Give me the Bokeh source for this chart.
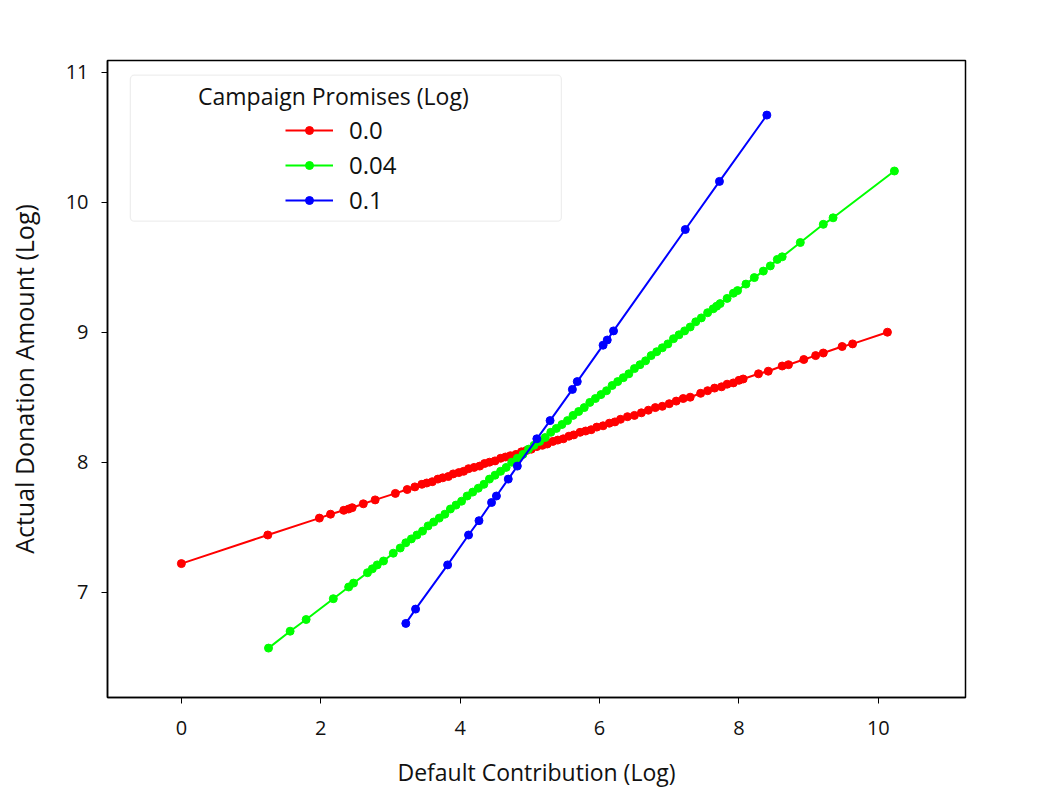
from bokeh.plotting import figure
from bokeh.models import Range1d, FixedTicker, Legend, LegendItem, BoxAnnotation, Label
from bokeh.embed import file_html
from bokeh.resources import INLINE

# ---- data ----
red_x = [0, 1.24, 1.98, 2.14, 2.33, 2.40, 2.45, 2.61, 2.78, 3.07, 3.24, 3.35, 3.45, 3.52, 3.60,
         3.68, 3.75, 3.83, 3.90, 3.98, 4.05, 4.12, 4.20, 4.28, 4.35, 4.42, 4.50, 4.58, 4.65, 4.72,
         4.80, 4.88, 4.95, 5.02, 5.10, 5.18, 5.25, 5.33, 5.40, 5.48, 5.56, 5.63, 5.72, 5.80, 5.88,
         5.96, 6.05, 6.14, 6.22, 6.30, 6.40, 6.50, 6.60, 6.70, 6.80, 6.90, 7.00, 7.10, 7.20, 7.30,
         7.45, 7.55, 7.65, 7.75, 7.83, 7.92, 8.00, 8.06, 8.28, 8.42, 8.62, 8.71, 8.93, 9.10, 9.21,
         9.48, 9.63, 10.13]
red_y = [7.22, 7.44, 7.57, 7.60, 7.63, 7.64, 7.65, 7.68, 7.71, 7.76, 7.79, 7.81, 7.83, 7.84, 7.85,
         7.87, 7.88, 7.89, 7.91, 7.92, 7.93, 7.95, 7.96, 7.97, 7.99, 8.00, 8.01, 8.03, 8.04, 8.05,
         8.06, 8.08, 8.09, 8.10, 8.12, 8.13, 8.14, 8.16, 8.17, 8.18, 8.20, 8.21, 8.23, 8.24, 8.25,
         8.27, 8.28, 8.30, 8.31, 8.33, 8.35, 8.36, 8.38, 8.40, 8.42, 8.43, 8.45, 8.47, 8.49, 8.50,
         8.53, 8.55, 8.57, 8.58, 8.60, 8.61, 8.63, 8.64, 8.68, 8.70, 8.74, 8.75, 8.79, 8.82, 8.84,
         8.89, 8.91, 9.00]

green_x = [1.25, 1.56, 1.79, 2.18, 2.40, 2.47, 2.67, 2.74, 2.81, 2.90, 3.04, 3.14, 3.22, 3.30, 3.38,
           3.46, 3.54, 3.62, 3.70, 3.78, 3.86, 3.94, 4.02, 4.10, 4.18, 4.26, 4.34, 4.42, 4.50, 4.58,
           4.66, 4.74, 4.82, 4.90, 4.98, 5.06, 5.14, 5.22, 5.30, 5.38, 5.46, 5.54, 5.62, 5.70, 5.78,
           5.86, 5.94, 6.02, 6.10, 6.18, 6.26, 6.34, 6.42, 6.50, 6.58, 6.66, 6.74, 6.82, 6.90, 6.98,
           7.06, 7.14, 7.22, 7.30, 7.38, 7.46, 7.55, 7.63, 7.68, 7.73, 7.83, 7.92, 7.98, 8.10, 8.22,
           8.35, 8.45, 8.55, 8.62, 8.88, 9.21, 9.35, 10.23]
green_y = [6.57, 6.70, 6.79, 6.95, 7.04, 7.07, 7.15, 7.18, 7.21, 7.24, 7.30, 7.34, 7.38, 7.41, 7.44,
           7.47, 7.51, 7.54, 7.57, 7.60, 7.64, 7.67, 7.70, 7.74, 7.77, 7.80, 7.83, 7.87, 7.90, 7.93,
           7.96, 8.00, 8.03, 8.06, 8.10, 8.13, 8.16, 8.19, 8.23, 8.26, 8.29, 8.32, 8.36, 8.39, 8.42,
           8.46, 8.49, 8.52, 8.55, 8.59, 8.62, 8.65, 8.68, 8.72, 8.75, 8.78, 8.82, 8.85, 8.88, 8.91,
           8.95, 8.98, 9.01, 9.04, 9.08, 9.11, 9.15, 9.18, 9.20, 9.22, 9.26, 9.30, 9.32, 9.37, 9.42,
           9.47, 9.51, 9.56, 9.58, 9.69, 9.83, 9.88, 10.24]

blue_x = [3.22, 3.36, 3.82, 4.12, 4.27, 4.45, 4.52, 4.69, 4.82, 5.10, 5.29, 5.61, 5.68, 6.05, 6.11,
          6.20, 7.23, 7.72, 8.40]
blue_y = [6.76, 6.87, 7.21, 7.44, 7.55, 7.69, 7.74, 7.87, 7.97, 8.18, 8.32, 8.56, 8.62, 8.90, 8.94,
          9.01, 9.79, 10.16, 10.67]

series_labels = ["0.0", "0.04", "0.1"]
series_colors = ["#ff0000", "#00ff00", "#0000ff"]
legend_title = "Campaign Promises (Log)"
x_title = "Default Contribution (Log)"
y_title = "Actual Donation Amount (Log)"
x_ticks = [0, 2, 4, 6, 8, 10]
y_ticks = [7, 8, 9, 10, 11]

FONT = "Open Sans"

p = figure(width=1057, height=803, output_backend="svg", toolbar_location=None,
           x_range=Range1d(-1.06, 11.25), y_range=Range1d(6.19, 11.09),
           min_border_left=107, min_border_right=92, min_border_top=60, min_border_bottom=106)
p.background_fill_color = "white"
p.border_fill_color = "white"
p.outline_line_color = "black"
p.outline_line_width = 1.5
p.grid.visible = False

for ax, ticks in ((p.xaxis[0], x_ticks), (p.yaxis[0], y_ticks)):
    ax.ticker = FixedTicker(ticks=ticks)
    ax.minor_tick_line_color = None
    ax.major_tick_in = 0
    ax.major_tick_out = 6
    ax.major_tick_line_color = "black"
    ax.axis_line_color = "black"
    ax.axis_line_width = 1.5
    ax.major_label_text_font = FONT
    ax.major_label_text_font_size = "20px"
    ax.major_label_text_color = "#111111"
    ax.axis_label_text_font = FONT
    ax.axis_label_text_font_style = "normal"
    ax.axis_label_text_color = "#111111"

p.xaxis.axis_label = x_title
p.xaxis.axis_label_text_font_size = "23px"
p.xaxis.major_label_standoff = 17
p.xaxis.axis_label_standoff = 18
p.yaxis.axis_label = y_title
p.yaxis.axis_label_text_font_size = "25px"
p.yaxis.major_label_standoff = 13
p.yaxis.axis_label_standoff = 22

# legend frame and title (annotations)
p.add_layout(BoxAnnotation(left=-0.732, right=5.452, top=10.977, bottom=9.854,
                           fill_color="white", fill_alpha=0.85, line_color="#c8c8c8",
                           line_width=1.3, border_radius=4, level="overlay"))

items = []
for xs, ys, lab, col in ((red_x, red_y, series_labels[0], series_colors[0]),
                         (green_x, green_y, series_labels[1], series_colors[1]),
                         (blue_x, blue_y, series_labels[2], series_colors[2])):
    ln = p.line(xs, ys, line_color=col, line_width=2)
    sc = p.scatter(xs, ys, size=8, fill_color=col, line_color=col)
    items.append(LegendItem(label=lab, renderers=[ln, sc]))

p.add_layout(Label(x=2.18, y=10.815, text=legend_title, text_align="center",
                   text_baseline="middle", text_font=FONT, text_font_size="23px",
                   text_color="#111111", level="overlay"))

legend = Legend(items=items, location=(178, 481), padding=0, spacing=2,
                glyph_width=48, glyph_height=20, label_height=20, label_standoff=16,
                label_text_font=FONT, label_text_font_size="24px", label_text_color="#111111",
                border_line_color=None, background_fill_alpha=0)
p.add_layout(legend)

open("out.html", "w").write(file_html(p, INLINE))
